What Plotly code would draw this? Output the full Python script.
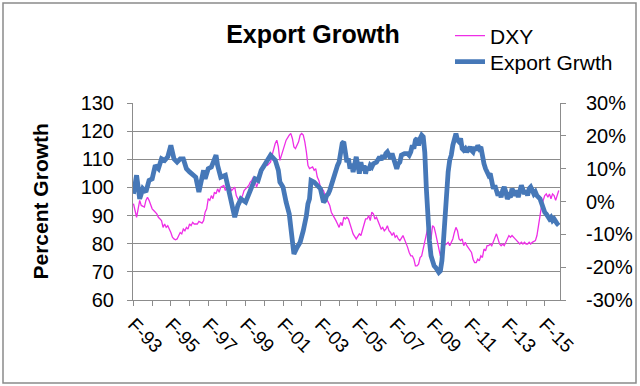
import plotly.graph_objects as go

# ---- data (x = months since Feb-1993) ----
dxy_month = [0,1,2,3,4,5,7,8,9,10,11,12,13,15,16,17,18,19,20,21,22,24,25,26,27,28,30,31,32,33,34,35,36,37,38,39,41,42,44,45,
             46,47,48,49,50,51,52,53,54,55,56,58,59,60,61,62,63,64,65,66,67,68,69,70,71,73,74,75,76,77,78,79,80,81,82,83,84,85,86,88,
             89,90,91,92,93,94,95,96,97,98,100,101,102,103,104,105,106,107,108,109,110,111,112,113,115,116,117,118,119,120,
             121,122,123,124,125,126,127,129,130,131,132,133,134,135,136,137,138,139,140,141,143,144,145,146,147,148,149,150,
             151,152,153,154,155,156,158,159,160,161,162,163,164,165,166,167,168,169,170,171,173,174,175,176,177,178,179,180,
             181,182,183,184,185,186,187,188,189,190,191,192,193,194,195,196,197,198,199,201,202,203,204,205,206,207,208,209,
             210,211,212,213,214,216,217,218,219,220,221,222,223,224,225,226,227,228,229,230,231,232,233,234,235,236,237,238,
             239,240,241,242,243,245,246,247,248,249,250,251,252,253,254,255,256,258,259,260,261,262,263,264,265,266,267,268,
             269,270,271,272,273]
dxy_value = [94.2,91.8,89.4,92.4,95.4,93.6,93.0,95.4,96.5,95.4,93.6,92.4,91.8,90.6,89.4,88.8,88.2,85.8,87.0,85.8,86.4,84.0,82.3,81.7,81.4,81.7,84.0,83.5,85.2,84.6,85.8,85.2,87.0,86.4,87.6,87.0,87.0,87.9,87.3,88.2,
             91.2,92.4,96.0,95.4,97.1,96.0,98.3,97.7,99.5,98.3,100.1,100.7,98.9,100.1,100.7,100.1,98.9,99.5,100.1,97.1,96.0,94.8,96.0,97.1,98.9,100.1,100.7,101.9,102.5,103.7,102.5,100.1,101.3,103.1,104.9,106.1,106.7,108.5,107.9,109.0,
             111.5,113.8,115.6,116.8,114.4,109.6,111.4,112.6,115.0,116.8,118.6,119.2,117.4,114.4,113.8,115.0,116.2,118.6,119.2,118.6,116.2,112.6,107.9,106.7,107.3,106.1,106.7,103.7,102.5,100.1,
             99.5,98.9,97.1,96.0,94.8,93.6,91.2,89.4,88.2,87.0,85.8,87.6,86.4,89.4,88.8,89.4,88.8,87.0,85.2,83.5,81.7,82.9,83.5,82.9,84.6,87.0,88.8,88.8,
             90.0,88.2,91.2,90.6,88.8,89.4,86.4,85.2,85.8,84.6,85.2,86.4,84.6,84.0,82.9,84.0,82.3,82.9,81.7,81.1,82.9,81.7,80.5,78.7,76.9,75.7,75.7,74.5,
             72.1,72.1,72.7,75.1,75.7,78.1,80.5,84.0,85.8,84.0,81.7,86.4,85.8,83.5,80.5,77.5,75.7,78.1,79.3,79.9,80.5,79.3,80.5,81.7,84.0,85.8,84.6,81.7,
             81.1,81.7,79.3,80.5,79.3,77.5,76.9,74.5,73.3,73.3,74.5,73.9,75.7,75.1,78.1,77.5,79.3,79.3,79.9,79.3,80.5,81.7,83.5,81.7,79.9,79.3,79.9,79.3,
             80.5,81.7,82.9,82.3,82.9,81.7,81.1,80.5,79.9,80.5,79.9,80.5,79.9,79.9,80.5,79.9,80.5,81.1,82.9,86.4,90.0,93.6,95.4,97.1,97.7,96.5,97.7,96.0,
             97.7,97.1,95.4,97.1,98.9]

exp_month = [0,2,4,6,8,10,12,14,16,18,20,22,24,26,28,30,32,34,36,38,40,42,45,46,48,50,53,54,56,59,61,63,65,67,69,72,74,76,78,80,82,84,86,88,
             91,93,94,96,98,100,101,102,103,105,107,109,110,111,112,113,114,116,118,120,122,123,124,125,126,127,128,129,131,132,133,134,135,136,
             137,138,139,140,141,143,144,145,146,147,148,149,150,151,152,153,154,156,158,159,160,161,162,163,164,165,166,167,168,169,170,171,172,174,176,177,178,179,180,181,182,
             183,184,185,186,187,188,189,190,191,192,193,194,195,196,197,198,199,200,201,202,203,204,205,206,207,208,209,210,211,212,213,214,216,217,218,219,220,221,222,223,224,225,226,227,
             228,229,230,231,232,234,235,236,237,238,239,240,241,242,243,244,245,246,247,249,250,251,252,253,254,255,256,257,258,259,261,262,263,264,265,266,267,268,269,270,271,272,273]
exp_pct = [2.3,8.0,0.8,3.9,2.9,6.4,6.9,11.0,10.0,13.0,12.5,13.6,17.1,13.0,12.0,13.0,13.0,10.0,9.0,8.0,7.4,2.9,9.5,6.9,10.0,10.5,14.1,11.0,7.4,8.0,3.9,0.8,-4.8,-1.2,0.8,-0.2,2.3,4.4,6.9,6.4,9.5,11.0,12.5,14.1,
           12.6,9.5,5.9,4.4,-0.2,-3.8,-7.9,-11.4,-16.0,-14.0,-12.4,-8.9,-6.8,-4.3,-0.7,0.8,6.4,5.9,4.9,3.9,-0.2,0.3,1.8,2.3,3.4,4.9,7.4,8.5,11.0,12.0,15.6,17.7,18.2,15.1,
           12.0,13.1,10.0,11.5,9.0,13.6,11.0,8.5,12.0,9.5,11.0,8.5,10.5,9.5,11.0,10.5,11.5,12.0,13.6,12.6,14.1,13.1,14.6,15.1,14.1,13.1,14.6,13.1,10.5,10.0,11.5,12.0,14.1,14.6,14.6,14.1,15.1,17.1,16.1,18.7,19.2,
           17.1,19.2,20.2,19.7,15.0,4.0,-5.3,-12.0,-16.5,-18.6,-19.6,-20.1,-21.1,-21.6,-21.1,-18.0,-12.0,-4.0,3.0,9.0,12.6,14.1,17.1,18.7,20.7,18.7,18.2,19.2,16.1,15.6,16.1,15.1,16.6,15.6,15.1,16.6,15.6,17.1,16.1,16.6,13.6,11.5,10.0,8.5,
           8.0,8.5,6.4,3.9,4.9,1.8,2.9,1.3,3.4,4.4,2.9,0.8,1.8,1.3,3.9,2.9,1.8,3.4,1.3,4.9,3.9,2.3,3.4,1.8,3.9,4.4,3.4,2.3,2.9,1.8,0.8,-0.7,-1.7,-3.3,-3.8,-4.8,-5.3,-4.8,-5.8,-5.3,-6.3,-6.8,-7.3]

x_label_years = [1993,1995,1997,1999,2001,2003,2005,2007,2009,2011,2013,2015]
x_tick_labels = ["F-93","F-95","F-97","F-99","F-01","F-03","F-05","F-07","F-09","F-11","F-13","F-15"]
left_ticks = [60,70,80,90,100,110,120,130]
right_ticks = [-30,-20,-10,0,10,20,30]
right_tick_labels = ["-30%","-20%","-10%","0%","10%","20%","30%"]

FONT = "Liberation Sans, Arial, sans-serif"
GRID = "#8c8c8c"

L, R, T, B = 133, 80, 103, 86
W, H = 640, 386
pw, ph = W - L - R, H - T - B

fig = go.Figure()
fig.add_trace(go.Scatter(x=dxy_month, y=dxy_value, mode="lines", name="DXY", legend="legend",
                         line=dict(color="#EE2EE6", width=1.3)))
fig.add_trace(go.Scatter(x=exp_month, y=exp_pct, mode="lines", name="Export Grwth", yaxis="y2",
                         legend="legend2", line=dict(color="#4678B8", width=4.8)))

legend_style = dict(xanchor="left", yanchor="middle", font=dict(size=21, family=FONT, color="black"),
                    bgcolor="rgba(0,0,0,0)", itemwidth=30)

fig.update_layout(
    width=W, height=H,
    margin=dict(l=L, r=R, t=T, b=B, autoexpand=False),
    paper_bgcolor="white", plot_bgcolor="white",
    font=dict(family=FONT, color="black"),
    title=dict(text="<b>Export Growth</b>", font=dict(size=25, family=FONT, color="black"),
               x=(313 - L) / pw, xref="paper", xanchor="center",
               y=1 - 34 / H, yref="container", yanchor="middle"),
    showlegend=True,
    legend=dict(x=(450 - L) / pw, y=1 + (T - 36) / ph, **legend_style),
    legend2=dict(x=(450 - L) / pw, y=1 + (T - 62) / ph, **legend_style),
    xaxis=dict(range=[-0.3, 273.8], tickmode="array",
               tickvals=[(y - 1993) * 12 for y in x_label_years], ticktext=x_tick_labels,
               tickangle=45, tickfont=dict(size=19, family=FONT, color="black"),
               ticks="outside", ticklen=5, tickcolor=GRID,
               minor=dict(dtick=12, tick0=0, ticks="outside", ticklen=5, tickcolor=GRID, showgrid=False),
               showline=True, linecolor=GRID, linewidth=1, showgrid=False, zeroline=False),
    yaxis=dict(range=[60, 130], tickmode="array", tickvals=left_ticks,
               tickfont=dict(size=20, family=FONT, color="black"),
               ticks="outside", ticklen=5, tickcolor=GRID, ticklabelstandoff=9,
               showline=True, linecolor=GRID, showgrid=True, gridcolor=GRID, gridwidth=1,
               zeroline=False),
    yaxis2=dict(range=[-30, 30], overlaying="y", side="right", tickmode="array",
                tickvals=right_ticks, ticktext=right_tick_labels,
                tickfont=dict(size=20, family=FONT, color="black"),
                ticks="outside", ticklen=5, tickcolor=GRID, ticklabelstandoff=16,
                showline=True, linecolor=GRID, showgrid=False, zeroline=False),
)

# y-axis title
fig.add_annotation(text="<b>Percent Growth</b>", xref="paper", yref="paper",
                   x=(40 - L) / pw, y=0.5, xanchor="center", yanchor="middle",
                   textangle=-90, showarrow=False,
                   font=dict(size=21, family=FONT, color="black"))
# outer chart border
fig.add_shape(type="rect", xref="paper", yref="paper",
              x0=(3 - L) / pw, x1=(636 - L) / pw,
              y0=(H - B - 383) / ph, y1=(H - B - 3) / ph,
              line=dict(color="#8a8a8a", width=1.5), fillcolor="rgba(0,0,0,0)", layer="below")

fig.write_html("out.html", config={"displayModeBar": False},
               post_script="document.body.style.margin='0';document.body.style.overflow='hidden';")
